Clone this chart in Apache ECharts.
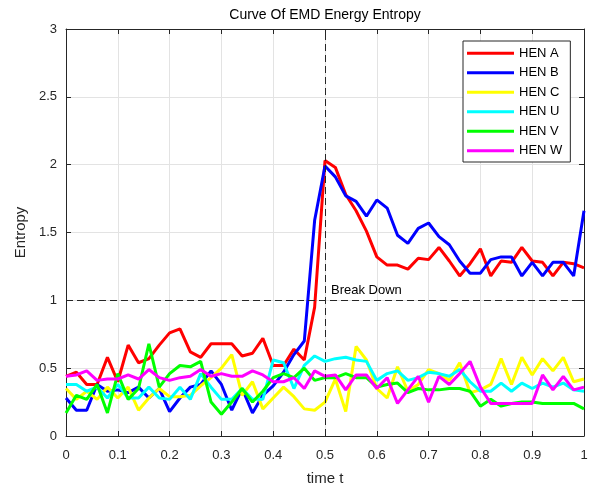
<!DOCTYPE html>
<html><head><meta charset="utf-8">
<script src="https://cdn.jsdelivr.net/npm/echarts@6.0.0/dist/echarts.min.js"></script>
<style>html,body{margin:0;padding:0;background:#fff}#c{width:594px;height:485px}</style>
</head><body><div id="c"></div>
<script>
const timeT = [0,0.02,0.04,0.06,0.08,0.1,0.12,0.14,0.16,0.18,0.2,0.22,0.24,0.26,0.28,0.3,0.32,0.34,0.36,0.38,0.4,0.42,0.44,0.46,0.48,0.5,0.52,0.54,0.56,0.58,0.6,0.62,0.64,0.66,0.68,0.7,0.72,0.74,0.76,0.78,0.8,0.82,0.84,0.86,0.88,0.9,0.92,0.94,0.96,0.98,1];
const henA = [0.44,0.47,0.38,0.38,0.58,0.40,0.67,0.54,0.57,0.67,0.76,0.79,0.62,0.58,0.68,0.68,0.68,0.59,0.61,0.72,0.52,0.52,0.64,0.56,0.95,2.03,1.98,1.78,1.66,1.51,1.32,1.26,1.26,1.23,1.31,1.30,1.39,1.29,1.18,1.27,1.38,1.18,1.29,1.28,1.39,1.29,1.28,1.18,1.28,1.27,1.24];
const henB = [0.28,0.19,0.19,0.38,0.33,0.34,0.32,0.36,0.28,0.35,0.18,0.28,0.36,0.38,0.48,0.38,0.19,0.35,0.17,0.30,0.37,0.47,0.60,0.70,1.59,1.99,1.91,1.77,1.73,1.62,1.74,1.68,1.48,1.42,1.53,1.57,1.47,1.41,1.29,1.20,1.20,1.30,1.32,1.32,1.18,1.28,1.18,1.28,1.28,1.18,1.66];
const henC = [0.35,0.27,0.33,0.27,0.36,0.28,0.36,0.19,0.28,0.35,0.29,0.29,0.30,0.37,0.43,0.50,0.60,0.30,0.40,0.20,0.28,0.36,0.29,0.20,0.19,0.25,0.42,0.18,0.66,0.56,0.35,0.28,0.51,0.33,0.38,0.49,0.46,0.41,0.54,0.32,0.34,0.38,0.57,0.38,0.58,0.45,0.57,0.48,0.58,0.40,0.42];
const henU = [0.38,0.38,0.33,0.36,0.28,0.38,0.28,0.28,0.36,0.28,0.27,0.36,0.27,0.46,0.36,0.27,0.27,0.35,0.27,0.27,0.56,0.54,0.35,0.52,0.59,0.55,0.57,0.58,0.56,0.55,0.41,0.46,0.48,0.41,0.43,0.47,0.46,0.44,0.49,0.40,0.33,0.33,0.39,0.33,0.39,0.35,0.39,0.36,0.39,0.34,0.33];
const henV = [0.17,0.30,0.27,0.38,0.17,0.46,0.27,0.35,0.68,0.36,0.46,0.52,0.51,0.55,0.25,0.16,0.25,0.35,0.25,0.33,0.43,0.46,0.43,0.50,0.41,0.43,0.43,0.46,0.43,0.43,0.36,0.38,0.39,0.32,0.35,0.34,0.34,0.35,0.35,0.33,0.22,0.27,0.22,0.24,0.25,0.25,0.24,0.24,0.24,0.24,0.20];
const henW = [0.44,0.45,0.48,0.41,0.42,0.42,0.45,0.42,0.49,0.43,0.41,0.43,0.44,0.49,0.44,0.46,0.44,0.44,0.48,0.45,0.40,0.40,0.43,0.35,0.48,0.44,0.45,0.34,0.45,0.45,0.35,0.43,0.24,0.34,0.44,0.25,0.44,0.38,0.46,0.55,0.36,0.24,0.24,0.24,0.24,0.24,0.45,0.34,0.44,0.34,0.36];
const seriesNames = ['HEN A','HEN B','HEN C','HEN U','HEN V','HEN W'];
const seriesColors = ['#ff0000','#0000ff','#ffff00','#00ffff','#00ff00','#ff00ff'];
const seriesValues = [henA, henB, henC, henU, henV, henW];
const breakTime = 0.5;
const breakLevel = 1;

const FONT = '"Liberation Sans", Arial, sans-serif';
const AX = '#262626';
const chart = echarts.init(document.getElementById('c'), null, {renderer: 'canvas'});

const tickStyle = {show: true, inside: true, length: 5, lineStyle: {color: AX}};
const series = seriesNames.map((n, k) => ({
  name: n, type: 'line', symbol: 'none', showSymbol: false, xAxisIndex: 0, yAxisIndex: 0,
  data: timeT.map((t, i) => [t, seriesValues[k][i]]),
  lineStyle: {width: 3, color: seriesColors[k]}, itemStyle: {color: seriesColors[k]},
  animation: false
}));
series[0].markLine = {
  silent: true, symbol: 'none', animation: false,
  label: {show: false},
  lineStyle: {type: [7, 4], color: AX, width: 1},
  data: [{xAxis: breakTime}, {yAxis: breakLevel}]
};

chart.setOption({
  animation: false,
  backgroundColor: '#fff',
  textStyle: {fontFamily: FONT},
  grid: {left: 66, right: 10, top: 29, bottom: 49, containLabel: false, outerBoundsMode: 'none'},
  xAxis: [{
    type: 'value', min: 0, max: 1, interval: 0.1, position: 'bottom',
    name: 'time t', nameLocation: 'middle', nameGap: 35,
    nameTextStyle: {fontSize: 15, color: AX, fontFamily: FONT},
    axisLine: {show: true, onZero: false, lineStyle: {color: AX}},
    axisTick: tickStyle,
    axisLabel: {fontSize: 13, color: AX, margin: 13, fontFamily: FONT},
    splitLine: {show: true, lineStyle: {color: '#e3e3e3'}}
  }, {
    type: 'value', min: 0, max: 1, interval: 0.1, position: 'top',
    axisLine: {show: true, onZero: false, lineStyle: {color: AX}},
    axisTick: tickStyle, axisLabel: {show: false}, splitLine: {show: false}
  }],
  yAxis: [{
    type: 'value', min: 0, max: 3, interval: 0.5, position: 'left',
    name: 'Entropy', nameLocation: 'middle', nameGap: 32, nameRotate: 90,
    nameTextStyle: {fontSize: 15, color: AX, fontFamily: FONT},
    axisLine: {show: true, onZero: false, lineStyle: {color: AX}},
    axisTick: tickStyle,
    axisLabel: {fontSize: 13, color: AX, margin: 9, fontFamily: FONT},
    splitLine: {show: true, lineStyle: {color: '#e3e3e3'}}
  }, {
    type: 'value', min: 0, max: 3, interval: 0.5, position: 'right',
    axisLine: {show: true, onZero: false, lineStyle: {color: AX}},
    axisTick: tickStyle, axisLabel: {show: false}, splitLine: {show: false}
  }],
  legend: {
    show: true,
    orient: 'vertical', left: 463, top: 41,
    padding: [5, 8, 4, 4], itemGap: 5, itemWidth: 47, itemHeight: 3,
    backgroundColor: '#fff', borderColor: AX, borderWidth: 1,
    textStyle: {fontSize: 13, color: '#000', fontFamily: FONT, lineHeight: 14.5},
    data: seriesNames.map(n => ({name: n, icon: 'rect'})),
    selectedMode: false
  },
  series: series
});

const p = chart.convertToPixel({gridIndex: 0}, [breakTime, breakLevel]);
const pTop = chart.convertToPixel({gridIndex: 0}, [0.5, 3]);
chart.setOption({
  graphic: [{
    type: 'text', left: p[0] + 6, top: p[1] - 16, silent: true,
    style: {text: 'Break Down', fontSize: 13, fill: '#000', fontFamily: FONT}
  }, {
    type: 'text', x: pTop[0], y: pTop[1] - 21, silent: true,
    style: {text: 'Curve Of EMD Energy Entropy', fontSize: 14, fill: '#000', fontFamily: FONT, align: 'center', verticalAlign: 'top'}
  }]
});
</script>
</body></html>
